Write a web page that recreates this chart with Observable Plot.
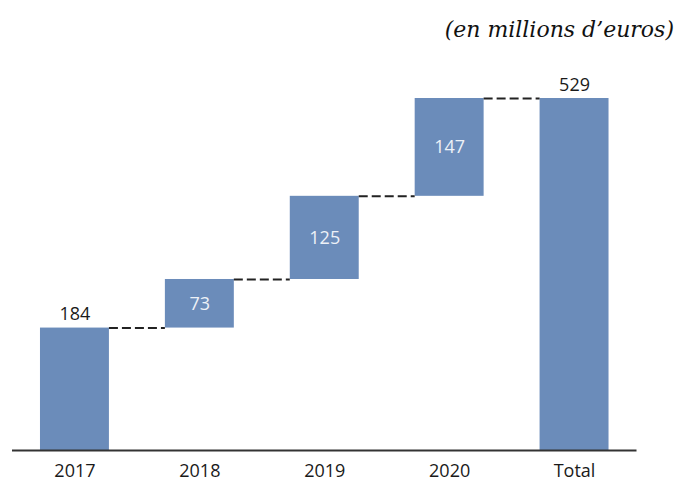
<!DOCTYPE html>
<html><head><meta charset="utf-8">
<script src="https://cdn.jsdelivr.net/npm/d3@7"></script>
<script src="https://cdn.jsdelivr.net/npm/@observablehq/plot@0.6"></script>
<style>
body{margin:0;background:#fff;}
#wrap{position:relative;width:676px;height:481px;overflow:hidden;}
#title{position:absolute;right:2px;top:19px;font-family:"DejaVu Serif";font-style:italic;font-size:22px;line-height:1;color:#111;white-space:nowrap;}
#chart{position:absolute;left:0;top:0;}
</style></head><body>
<div id="wrap"><div id="chart"></div><div id="title">(en millions d’euros)</div></div>
<script>
const categories = ["2017", "2018", "2019", "2020", "Total"];
const values = [184, 73, 125, 147, 529];
const isTotal = [false, false, false, false, true];

// waterfall layout derived from the values
let cum = 0;
const rows = categories.map((cat, i) => {
  let y1, y2;
  if (isTotal[i]) { y1 = 0; y2 = values[i]; }
  else { y1 = cum; y2 = cum + values[i]; }
  cum = y2;
  return {cat, value: values[i], y1, y2};
});
const links = rows.slice(0, -1).map((r, i) => ({from: r.cat, to: rows[i + 1].cat, y: r.y2}));
const outside = rows.filter(r => r.y1 === 0);
const inside = rows.filter(r => r.y1 !== 0);

const W = 676, H = 481, ml = 12, mr = 39.5, mt = 98, mb = 31;
const pIn = 0.448, pOut = 0.224;
const step = (W - ml - mr) / (categories.length - pIn + 2 * pOut);
const bw = step * (1 - pIn);

const chart = Plot.plot({
  width: W, height: H,
  marginLeft: ml, marginRight: mr, marginTop: mt, marginBottom: mb,
  x: {domain: categories, paddingInner: pIn, paddingOuter: pOut, round: false, label: null, tickSize: 0, tickPadding: 13.5},
  y: {domain: [0, d3.max(values)], axis: null},
  style: {fontFamily: "Open Sans", fontSize: "18px", color: "#1a1a1a", background: "#fff"},
  marks: [
    Plot.barY(rows, {x: "cat", y1: "y1", y2: "y2", fill: "#6b8cba"}),
    Plot.ruleY(links, {x1: "from", x2: "to", y: "y", stroke: "#222", strokeWidth: 2, strokeDasharray: "9,4", insetLeft: bw, insetRight: bw}),
    Plot.ruleY([0], {stroke: "#333", strokeWidth: 2}),
    Plot.text(outside, {x: "cat", y: "y2", text: d => String(d.value), dy: -8, lineAnchor: "bottom", fill: "#1a1a1a", fontSize: 18}),
    Plot.text(inside, {x: "cat", y: d => (d.y1 + d.y2) / 2, text: d => String(d.value), fill: "#edf1f7", fontSize: 18})
  ]
});
document.getElementById("chart").appendChild(chart);
</script>
</body></html>
